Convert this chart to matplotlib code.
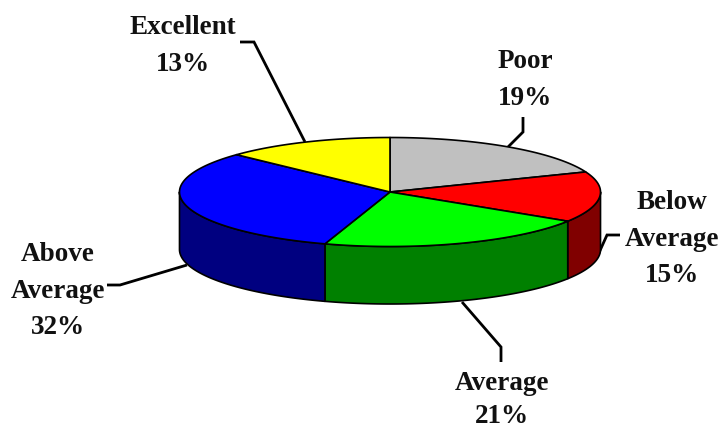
import numpy as np
import matplotlib
matplotlib.use("Agg")
import matplotlib.pyplot as plt
from matplotlib.patches import Polygon

categories = ["Poor", "Below\nAverage", "Average", "Above\nAverage", "Excellent"]
values = [19, 15, 21, 32, 13]
top_colors = ["#C0C0C0", "#FF0000", "#00FF00", "#0000FF", "#FFFF00"]
side_colors = ["#808080", "#800000", "#008000", "#000080", "#808000"]

# layout (pixels)
CX, CY, RX, RY, DEPTH = 390, 192, 210.5, 54.5, 57.5
label_pos = [(525, 80), (672, 239), (502, 400), (58, 291), (183, 46)]
label_spacing = [1.6, 1.6, 1.42, 1.6, 1.6]
leaders = [
    [(507, 148), (523, 132), (523, 117)],
    [(598, 255), (607, 235), (620, 235)],
    [(462, 302), (501, 347), (501, 362)],
    [(187, 265), (120, 285), (107, 285)],
    [(240, 42), (254, 42), (305, 142)],
]

plt.rcParams["font.family"] = ["Liberation Serif", "DejaVu Serif"]
fig = plt.figure(figsize=(7.2, 4.32), dpi=100)
ax = fig.add_axes([0, 0, 1, 1])
ax.set_xlim(0, 720)
ax.set_ylim(432, 0)
ax.axis("off")


def rim(a0, a1, dy=0.0):
    t = np.radians(np.linspace(a0, a1, max(int(abs(a1 - a0)) * 2, 2)))
    return np.column_stack([CX + RX * np.cos(t), CY - RY * np.sin(t) + dy])


edges = 90 - 360 * np.cumsum([0] + values) / sum(values)

# side walls: only the part of each slice on the front half of the rim
for a0, a1, col in zip(edges[:-1], edges[1:], side_colors):
    hi, lo = a0, a1
    for shift in (0, -360):
        h = min(hi, 360 + shift)
        l = max(lo, 180 + shift)
        if h > l:
            upper = rim(h, l)
            lower = rim(l, h, DEPTH)
            ax.add_patch(Polygon(np.vstack([upper, lower]), closed=True, facecolor=col,
                                 edgecolor="black", lw=1.2, joinstyle="round", zorder=2))

# top faces
for a0, a1, col in zip(edges[:-1], edges[1:], top_colors):
    pts = np.vstack([[CX, CY], rim(a0, a1)])
    ax.add_patch(Polygon(pts, closed=True, facecolor=col, edgecolor="black",
                         lw=1.2, joinstyle="round", zorder=3))

for seg in leaders:
    xs, ys = zip(*seg)
    ax.plot(xs, ys, color="black", lw=2, solid_joinstyle="miter", solid_capstyle="butt", zorder=1)

for name, val, (x, y), ls in zip(categories, values, label_pos, label_spacing):
    ax.text(x, y, f"{name}\n{val}%", ha="center", va="center", ma="center",
            fontsize=19.5, fontweight="bold", color="#111111", linespacing=ls, zorder=4)

fig.savefig("out.png", dpi=100, facecolor="white")
